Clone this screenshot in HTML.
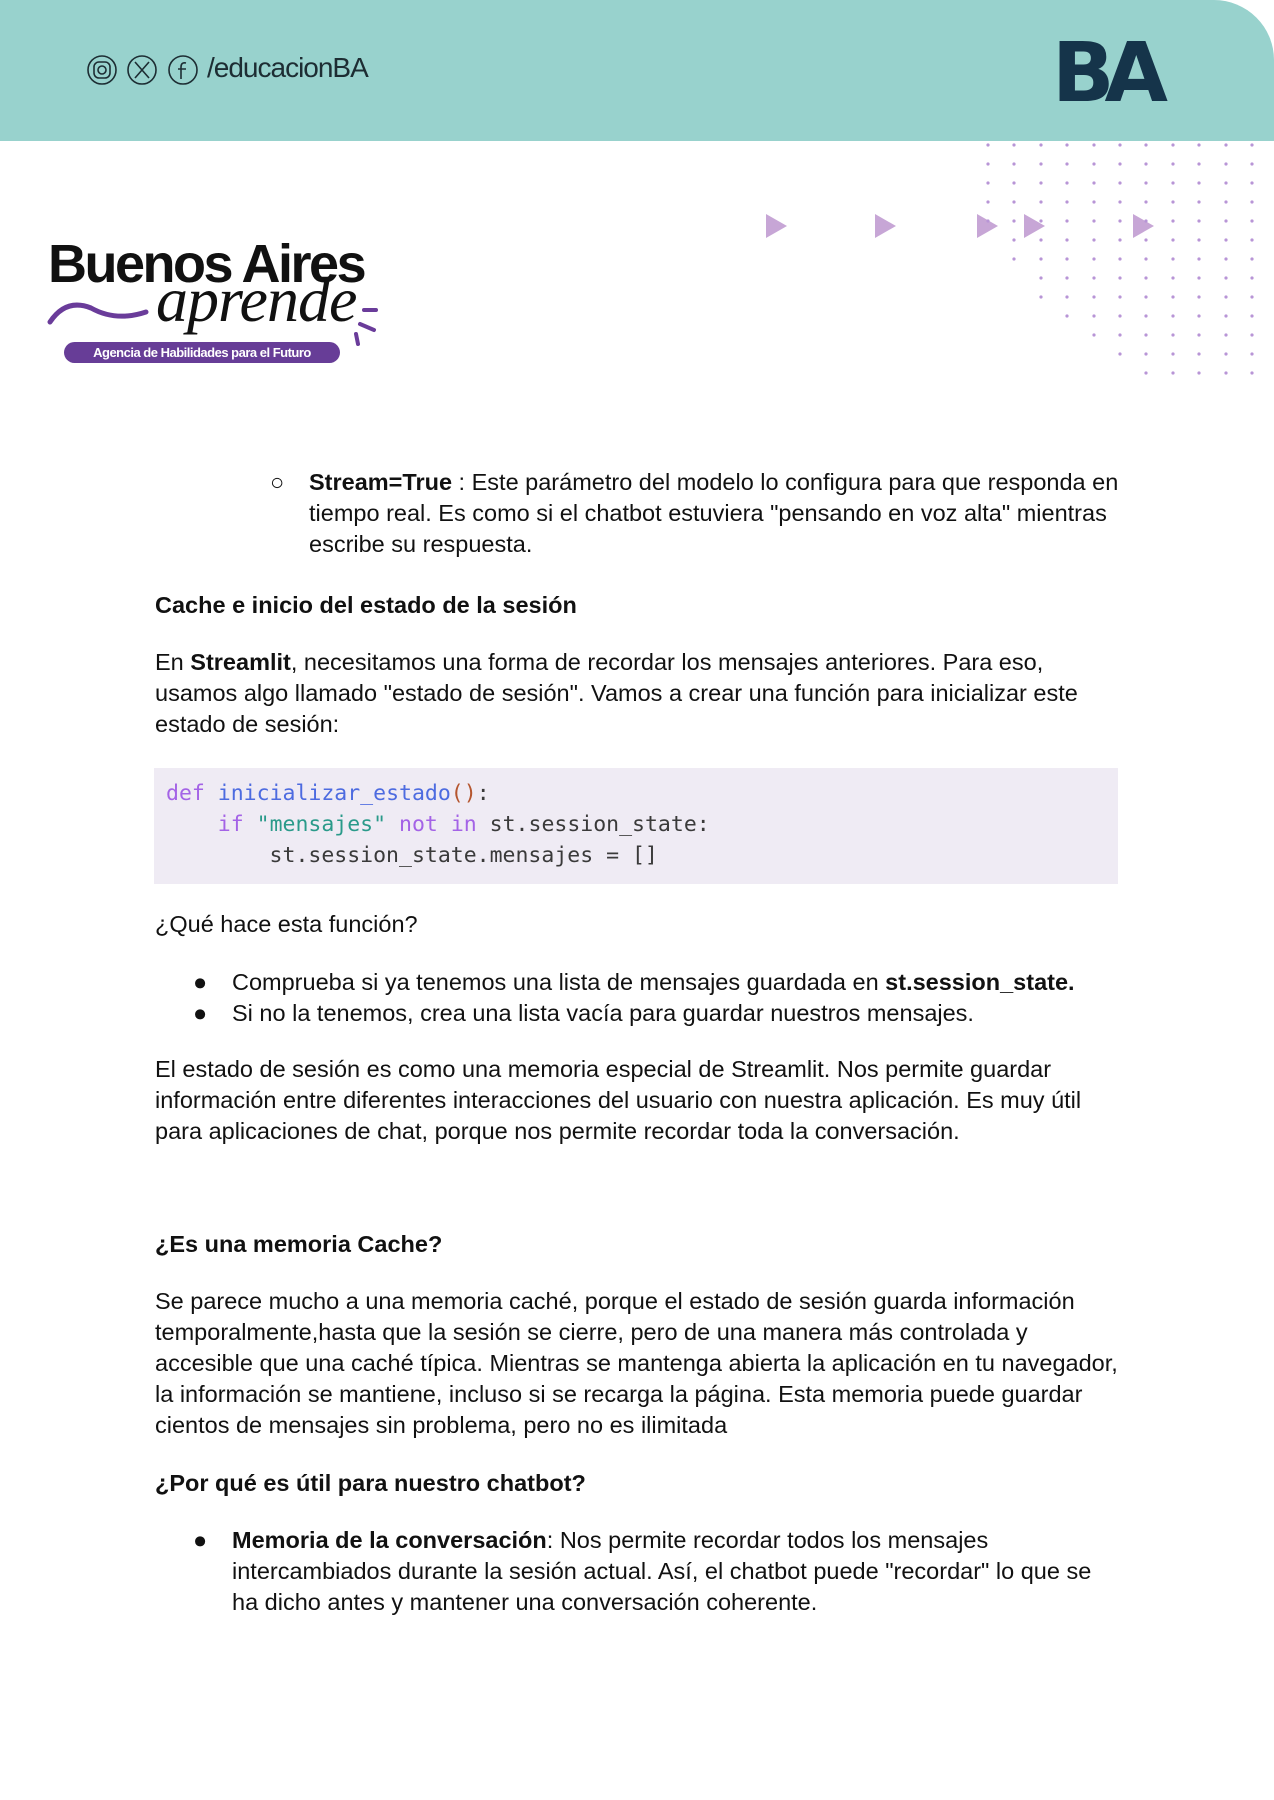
<!DOCTYPE html>
<html><head><meta charset="utf-8">
<style>
html,body{margin:0;padding:0}
body{width:1274px;height:1800px;position:relative;background:#fff;overflow:hidden;font-family:"Liberation Sans",Arial,sans-serif;color:#111}
.l{position:absolute;font-size:23.5px;line-height:31px;white-space:nowrap}
.h{font-weight:bold}
.code{position:absolute;font-family:"DejaVu Sans Mono","Liberation Mono",monospace;font-size:21.5px;line-height:31px;white-space:pre;color:#3a3a3a}
.kw{color:#a463e6}.fn{color:#4d6be0}.st{color:#2a9a8a}.pr{color:#b5562f}
</style></head><body>
<div style="position:absolute;left:0;top:0;width:1274px;height:141px;background:#98d2cd;border-top-right-radius:60px"></div>
<svg style="position:absolute;left:84px;top:54px" width="120" height="34">
<g fill="none" stroke="#1d2d33" stroke-width="1.6">
<circle cx="18" cy="16" r="14"/><rect x="10" y="8" width="16" height="16" rx="5"/><circle cx="18" cy="16" r="4"/>
<circle cx="58" cy="16" r="14"/><path d="M51 8 L65 24 M65 8 L51 24"/>
<circle cx="99" cy="16" r="14"/><path d="M102 9 Q97 8 97 13 L97 25 M94 15 L102 15"/>
</g></svg>
<div style="position:absolute;left:207px;top:52px;font-size:28px;color:#1d2d33;letter-spacing:-1px;font-family:'Liberation Sans Narrow','Liberation Sans',sans-serif">/educacionBA</div>
<div style="position:absolute;left:1052px;top:34px;font-size:82px;font-weight:900;color:#15344a;letter-spacing:-10px;line-height:80px;font-family:'DejaVu Sans','Liberation Sans',sans-serif">BA</div>
<svg style="position:absolute;left:0;top:0" width="1274" height="400">
<g fill="#c7a6d6">
<polygon points="766,214 787,226 766,238"/>
<polygon points="875,214 896,226 875,238"/>
<polygon points="977,214 998,226 977,238"/>
<polygon points="1024,214 1045,226 1024,238"/>
<polygon points="1133,214 1154,226 1133,238"/>
</g>
</svg>
<div style="position:absolute;left:48px;top:234px;font-size:54px;font-weight:bold;letter-spacing:-2.5px;color:#111;line-height:60px">Buenos Aires</div>
<div style="position:absolute;left:156px;top:268px;font-size:64px;font-style:italic;font-family:'Liberation Serif',serif;color:#111;letter-spacing:-1px;line-height:64px">aprende</div>
<svg style="position:absolute;left:46px;top:292px" width="340" height="60"><path d="M4 30 Q20 6 45 16 Q70 30 100 20" fill="none" stroke="#6a3c9a" stroke-width="5" stroke-linecap="round"/>
<path d="M318 18 L330 18 M314 32 L328 38 M310 42 L312 52" stroke="#6a3c9a" stroke-width="4" stroke-linecap="round"/></svg>
<div style="position:absolute;left:64px;top:342px;width:276px;height:21px;border-radius:11px;background:#673d97;color:#fff;font-size:13px;font-weight:bold;text-align:center;line-height:21px;letter-spacing:-0.5px">Agencia de Habilidades para el Futuro</div>

<div class="l" style="left:270px;top:467px">○</div>
<div class="l" style="left:309px;top:467px"><b>Stream=True</b> : Este parámetro del modelo lo configura para que responda en</div>
<div class="l" style="left:309px;top:498px">tiempo real. Es como si el chatbot estuviera "pensando en voz alta" mientras</div>
<div class="l" style="left:309px;top:529px">escribe su respuesta.</div>

<div class="l h" style="left:155px;top:590px">Cache e inicio del estado de la sesión</div>
<div class="l" style="left:155px;top:647px">En <b>Streamlit</b>, necesitamos una forma de recordar los mensajes anteriores. Para eso,</div>
<div class="l" style="left:155px;top:678px">usamos algo llamado "estado de sesión". Vamos a crear una función para inicializar este</div>
<div class="l" style="left:155px;top:709px">estado de sesión:</div>

<div style="position:absolute;left:154px;top:768px;width:964px;height:116px;background:#efebf4"></div>
<div class="code" style="left:166px;top:778px"><span class="kw">def</span> <span class="fn">inicializar_estado</span><span class="pr">()</span>:
    <span class="kw">if</span> <span class="st">"mensajes"</span> <span class="kw">not</span> <span class="kw">in</span> st.session_state:
        st.session_state.mensajes = []</div>

<div class="l" style="left:155px;top:909px">¿Qué hace esta función?</div>
<div class="l" style="left:193px;top:967px">●</div>
<div class="l" style="left:232px;top:967px">Comprueba si ya tenemos una lista de mensajes guardada en <b>st.session_state.</b></div>
<div class="l" style="left:193px;top:998px">●</div>
<div class="l" style="left:232px;top:998px">Si no la tenemos, crea una lista vacía para guardar nuestros mensajes.</div>

<div class="l" style="left:155px;top:1054px">El estado de sesión es como una memoria especial de Streamlit. Nos permite guardar</div>
<div class="l" style="left:155px;top:1085px">información entre diferentes interacciones del usuario con nuestra aplicación. Es muy útil</div>
<div class="l" style="left:155px;top:1116px">para aplicaciones de chat, porque nos permite recordar toda la conversación.</div>

<div class="l h" style="left:155px;top:1229px">¿Es una memoria Cache?</div>
<div class="l" style="left:155px;top:1286px">Se parece mucho a una memoria caché, porque el estado de sesión guarda información</div>
<div class="l" style="left:155px;top:1317px">temporalmente,hasta que la sesión se cierre, pero de una manera más controlada y</div>
<div class="l" style="left:155px;top:1348px">accesible que una caché típica. Mientras se mantenga abierta la aplicación en tu navegador,</div>
<div class="l" style="left:155px;top:1379px">la información se mantiene, incluso si se recarga la página. Esta memoria puede guardar</div>
<div class="l" style="left:155px;top:1410px">cientos de mensajes sin problema, pero no es ilimitada</div>

<div class="l h" style="left:155px;top:1468px">¿Por qué es útil para nuestro chatbot?</div>
<div class="l" style="left:193px;top:1525px">●</div>
<div class="l" style="left:232px;top:1525px"><b>Memoria de la conversación</b>: Nos permite recordar todos los mensajes</div>
<div class="l" style="left:232px;top:1556px">intercambiados durante la sesión actual. Así, el chatbot puede "recordar" lo que se</div>
<div class="l" style="left:232px;top:1587px">ha dicho antes y mantener una conversación coherente.</div>

<svg style="position:absolute;left:0;top:0" width="1274" height="400"><g fill="#b895d6">
<g transform="translate(0,145)"><circle cx="988" r="1.6"/><circle cx="1014" r="1.6"/><circle cx="1041" r="1.6"/><circle cx="1067" r="1.6"/><circle cx="1094" r="1.6"/><circle cx="1120" r="1.6"/><circle cx="1146" r="1.6"/><circle cx="1173" r="1.6"/><circle cx="1199" r="1.6"/><circle cx="1226" r="1.6"/><circle cx="1252" r="1.6"/></g>
<g transform="translate(0,164)"><circle cx="988" r="1.6"/><circle cx="1014" r="1.6"/><circle cx="1041" r="1.6"/><circle cx="1067" r="1.6"/><circle cx="1094" r="1.6"/><circle cx="1120" r="1.6"/><circle cx="1146" r="1.6"/><circle cx="1173" r="1.6"/><circle cx="1199" r="1.6"/><circle cx="1226" r="1.6"/><circle cx="1252" r="1.6"/></g>
<g transform="translate(0,183)"><circle cx="988" r="1.6"/><circle cx="1014" r="1.6"/><circle cx="1041" r="1.6"/><circle cx="1067" r="1.6"/><circle cx="1094" r="1.6"/><circle cx="1120" r="1.6"/><circle cx="1146" r="1.6"/><circle cx="1173" r="1.6"/><circle cx="1199" r="1.6"/><circle cx="1226" r="1.6"/><circle cx="1252" r="1.6"/></g>
<g transform="translate(0,202)"><circle cx="988" r="1.6"/><circle cx="1014" r="1.6"/><circle cx="1041" r="1.6"/><circle cx="1067" r="1.6"/><circle cx="1094" r="1.6"/><circle cx="1120" r="1.6"/><circle cx="1146" r="1.6"/><circle cx="1173" r="1.6"/><circle cx="1199" r="1.6"/><circle cx="1226" r="1.6"/><circle cx="1252" r="1.6"/></g>
<g transform="translate(0,221)"><circle cx="988" r="1.6"/><circle cx="1014" r="1.6"/><circle cx="1041" r="1.6"/><circle cx="1067" r="1.6"/><circle cx="1094" r="1.6"/><circle cx="1120" r="1.6"/><circle cx="1146" r="1.6"/><circle cx="1173" r="1.6"/><circle cx="1199" r="1.6"/><circle cx="1226" r="1.6"/><circle cx="1252" r="1.6"/></g>
<g transform="translate(0,240)"><circle cx="1014" r="1.6"/><circle cx="1041" r="1.6"/><circle cx="1067" r="1.6"/><circle cx="1094" r="1.6"/><circle cx="1120" r="1.6"/><circle cx="1146" r="1.6"/><circle cx="1173" r="1.6"/><circle cx="1199" r="1.6"/><circle cx="1226" r="1.6"/><circle cx="1252" r="1.6"/></g>
<g transform="translate(0,259)"><circle cx="1014" r="1.6"/><circle cx="1041" r="1.6"/><circle cx="1067" r="1.6"/><circle cx="1094" r="1.6"/><circle cx="1120" r="1.6"/><circle cx="1146" r="1.6"/><circle cx="1173" r="1.6"/><circle cx="1199" r="1.6"/><circle cx="1226" r="1.6"/><circle cx="1252" r="1.6"/></g>
<g transform="translate(0,278)"><circle cx="1041" r="1.6"/><circle cx="1067" r="1.6"/><circle cx="1094" r="1.6"/><circle cx="1120" r="1.6"/><circle cx="1146" r="1.6"/><circle cx="1173" r="1.6"/><circle cx="1199" r="1.6"/><circle cx="1226" r="1.6"/><circle cx="1252" r="1.6"/></g>
<g transform="translate(0,297)"><circle cx="1041" r="1.6"/><circle cx="1067" r="1.6"/><circle cx="1094" r="1.6"/><circle cx="1120" r="1.6"/><circle cx="1146" r="1.6"/><circle cx="1173" r="1.6"/><circle cx="1199" r="1.6"/><circle cx="1226" r="1.6"/><circle cx="1252" r="1.6"/></g>
<g transform="translate(0,316)"><circle cx="1067" r="1.6"/><circle cx="1094" r="1.6"/><circle cx="1120" r="1.6"/><circle cx="1146" r="1.6"/><circle cx="1173" r="1.6"/><circle cx="1199" r="1.6"/><circle cx="1226" r="1.6"/><circle cx="1252" r="1.6"/></g>
<g transform="translate(0,335)"><circle cx="1094" r="1.6"/><circle cx="1120" r="1.6"/><circle cx="1146" r="1.6"/><circle cx="1173" r="1.6"/><circle cx="1199" r="1.6"/><circle cx="1226" r="1.6"/><circle cx="1252" r="1.6"/></g>
<g transform="translate(0,354)"><circle cx="1120" r="1.6"/><circle cx="1146" r="1.6"/><circle cx="1173" r="1.6"/><circle cx="1199" r="1.6"/><circle cx="1226" r="1.6"/><circle cx="1252" r="1.6"/></g>
<g transform="translate(0,373)"><circle cx="1146" r="1.6"/><circle cx="1173" r="1.6"/><circle cx="1199" r="1.6"/><circle cx="1226" r="1.6"/><circle cx="1252" r="1.6"/></g>
</g></svg>
</body></html>
